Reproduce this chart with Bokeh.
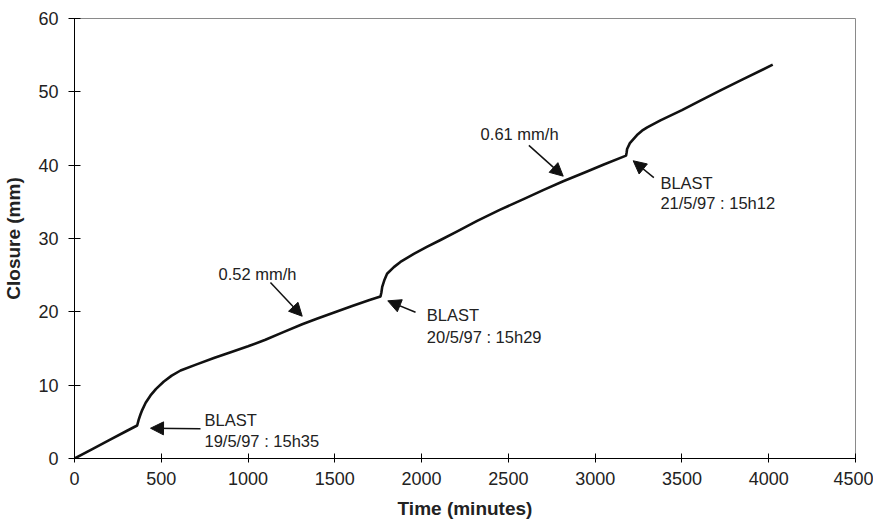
from bokeh.plotting import figure
from bokeh.models import Range1d, Arrow, NormalHead, ColumnDataSource, FixedTicker
from bokeh.core.properties import value
from bokeh.embed import file_html
from bokeh.resources import INLINE

# Curve: time (minutes) vs closure (mm)
time_min = [0, 100, 200, 300, 361, 370, 380, 390, 410, 438, 470, 515, 560, 611, 700, 803,
            900, 1000, 1100, 1200, 1312, 1400, 1500, 1600, 1700, 1763, 1768, 1773, 1785,
            1801, 1840, 1878, 1955, 2030, 2109, 2200, 2320, 2450, 2600, 2700, 2816, 2950,
            3050, 3178, 3181, 3184, 3200, 3241, 3270, 3300, 3376, 3500, 3606, 3722, 3850, 4023]
closure_mm = [0, 1.25, 2.5, 3.75, 4.5, 5.3, 6.0, 6.6, 7.6, 8.6, 9.5, 10.5, 11.3, 12.0, 12.8, 13.7,
              14.5, 15.3, 16.2, 17.2, 18.3, 19.1, 19.95, 20.8, 21.6, 22.1, 22.6, 23.4, 24.3,
              25.2, 26.1, 26.8, 27.9, 28.85, 29.8, 30.9, 32.4, 33.9, 35.5, 36.6, 37.8, 39.1,
              40.1, 41.3, 41.7, 42.2, 43.0, 44.1, 44.7, 45.15, 46.1, 47.5, 48.8, 50.2, 51.7, 53.7]

# Annotation arrows (tail -> tip), data coordinates
arrow_x0 = [726, 1129, 1965, 2618, 3338]
arrow_y0 = [4.05, 24.0, 19.95, 42.7, 38.3]
arrow_x1 = [438, 1312, 1805, 2816, 3219]
arrow_y1 = [4.13, 19.4, 21.5, 38.5, 40.6]

# Annotation texts
label_text = ["BLAST", "19/5/97 : 15h35", "0.52 mm/h", "BLAST", "20/5/97 : 15h29",
              "0.61 mm/h", "BLAST", "21/5/97 : 15h12"]
label_x = [749, 749, 830, 2030, 2030, 2340, 3376, 3376]
label_y = [5.3, 2.45, 25.2, 19.6, 16.6, 44.2, 37.6, 34.9]

x_ticks = [0, 500, 1000, 1500, 2000, 2500, 3000, 3500, 4000, 4500]
y_ticks = [0, 10, 20, 30, 40, 50, 60]

FONT = "Liberation Sans"

p = figure(width=873, height=524, output_backend="svg", toolbar_location=None,
           x_range=Range1d(0, 4500), y_range=Range1d(0, 60),
           min_border_left=74, min_border_right=18, min_border_top=18, min_border_bottom=66)
p.background_fill_color = "white"
p.border_fill_color = "white"
p.outline_line_color = "#8a8a8a"
p.outline_line_width = 1
p.grid.visible = False

for ax in (p.xaxis[0], p.yaxis[0]):
    ax.axis_line_color = "black"
    ax.axis_line_width = 1
    ax.major_tick_line_color = "black"
    ax.minor_tick_line_color = None
    ax.major_label_text_font = FONT
    ax.major_label_text_font_size = "18px"
    ax.major_label_text_color = "#222222"
    ax.axis_label_text_font = FONT
    ax.axis_label_text_font_style = "bold"
    ax.axis_label_text_font_size = "19px"
    ax.axis_label_text_color = "#222222"

p.xaxis.ticker = FixedTicker(ticks=x_ticks)
p.yaxis.ticker = FixedTicker(ticks=y_ticks)
p.xaxis.axis_label = "Time (minutes)"
p.yaxis.axis_label = "Closure (mm)"
p.xaxis.major_tick_in = 5
p.xaxis.major_tick_out = 4
p.yaxis.major_tick_in = 6
p.yaxis.major_tick_out = 6
p.xaxis.major_label_standoff = 9
p.yaxis.major_label_standoff = 10
p.xaxis.axis_label_standoff = 10
p.yaxis.axis_label_standoff = 11

p.line(time_min, closure_mm, line_color="#111111", line_width=2.6, line_join="round")

src = ColumnDataSource(dict(x0=arrow_x0, y0=arrow_y0, x1=arrow_x1, y1=arrow_y1))
p.add_layout(Arrow(end=NormalHead(size=13, fill_color="#111111", line_color="#111111"),
                   x_start="x0", y_start="y0", x_end="x1", y_end="y1",
                   line_color="#111111", line_width=1.5, source=src))

p.text(x=label_x, y=label_y, text=label_text, text_font=value(FONT),
       text_font_size="16.5px", text_color="#222222", text_baseline="alphabetic",
       text_align="left")

open("out.html", "w").write(file_html(p, INLINE))
